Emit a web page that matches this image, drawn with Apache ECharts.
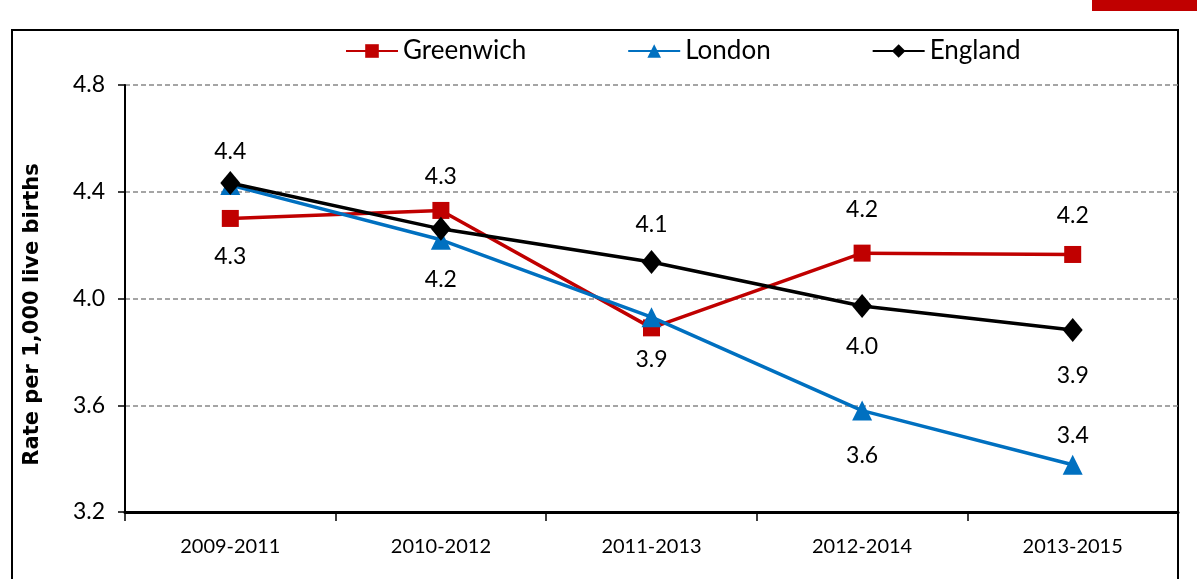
<!DOCTYPE html>
<html>
<head>
<meta charset="utf-8">
<script src="https://cdn.jsdelivr.net/npm/echarts@6/dist/echarts.min.js"></script>
<style>html,body{margin:0;padding:0;background:#fff;}#c{width:1197px;height:579px;}</style>
</head>
<body>
<div id="c"></div>
<script>
var categories = ['2009-2011', '2010-2012', '2011-2013', '2012-2014', '2013-2015'];
var greenwich = [4.30, 4.33, 3.89, 4.17, 4.165];
var london = [4.425, 4.22, 3.93, 3.58, 3.377];
var england = [4.433, 4.261, 4.137, 3.972, 3.882];
var greenwichLabels = ['4.3', '4.3', '3.9', '4.2', '4.2'];
var londonLabels = [null, '4.2', null, '3.6', '3.4'];
var englandLabels = ['4.4', null, '4.1', '4.0', '3.9'];
var yTicks = [3.2, 3.6, 4.0, 4.4, 4.8];

var FONT = 'Lato, "Open Sans", sans-serif';
// label placement per point [position, distance]
var gPos = [['bottom', 18], ['top', 14], ['bottom', 12], ['top', 24], ['top', 19]];
var lPos = [null, ['bottom', 18], null, ['bottom', 23], ['top', 8]];
var ePos = [['top', 8], null, ['top', 14], ['bottom', 17], ['bottom', 22]];

function build(values, labels, pos) {
  return values.map(function (v, i) {
    var item = { value: v };
    if (labels[i] !== null) {
      item.label = {
        show: true, position: pos[i][0], distance: pos[i][1],
        formatter: labels[i], color: '#000', fontSize: 23, fontFamily: FONT
      };
    } else {
      item.label = { show: false };
    }
    return item;
  });
}

var chart = echarts.init(document.getElementById('c'));
chart.setOption({
  animation: false,
  backgroundColor: '#fff',
  graphic: [
    { type: 'rect', shape: { x: 12, y: 30, width: 1166, height: 620 }, style: { fill: 'none', stroke: '#000', lineWidth: 2 }, z: -1 },
    { type: 'rect', shape: { x: 1092, y: 0, width: 105, height: 11 }, style: { fill: '#C00000' } }
  ],
  legend: {
    top: 33, left: 340, itemWidth: 52, itemHeight: 17, itemGap: 101,
    textStyle: { fontSize: 26, fontFamily: FONT, color: '#000', padding: [0, 0, 0, 0] },
    data: ['Greenwich', 'London', 'England']
  },
  grid: { left: 125, right: 19, top: 85, bottom: 67 },
  xAxis: {
    type: 'category', data: categories, boundaryGap: true,
    axisLine: { lineStyle: { color: '#000', width: 3 } },
    axisTick: { show: true, length: 9, lineStyle: { color: '#000', width: 1.5 } },
    axisLabel: { fontSize: 20, fontFamily: FONT, color: '#000', margin: 25 }
  },
  yAxis: {
    type: 'value', min: 3.2, max: 4.8, interval: 0.4,
    name: 'Rate per 1,000 live births', nameLocation: 'middle', nameGap: 82,
    nameTextStyle: { fontSize: 21, fontWeight: 'bold', fontFamily: '"DejaVu Sans", sans-serif', color: '#000', padding: [0, 32, 0, 0] },
    axisLine: { show: true, lineStyle: { color: '#000', width: 2 } },
    axisTick: { show: true, length: 7, lineStyle: { color: '#000', width: 1.5 } },
    axisLabel: { fontSize: 23, fontFamily: FONT, color: '#000', margin: 20,
      formatter: function (v) { return v.toFixed(1); } },
    splitLine: { show: true, lineStyle: { color: '#888', type: [5, 3], width: 1.5 } }
  },
  series: [
    { name: 'Greenwich', type: 'line', data: build(greenwich, greenwichLabels, gPos),
      symbol: 'rect', symbolSize: 17, lineStyle: { color: '#C00000', width: 3.5 },
      itemStyle: { color: '#C00000' }, z: 3 },
    { name: 'London', type: 'line', data: build(london, londonLabels, lPos),
      symbol: 'triangle', symbolSize: 20, lineStyle: { color: '#0070C0', width: 3.5 },
      itemStyle: { color: '#0070C0' }, z: 4 },
    { name: 'England', type: 'line', data: build(england, englandLabels, ePos),
      symbol: 'diamond', symbolSize: [20, 24], lineStyle: { color: '#000', width: 3.5 },
      itemStyle: { color: '#000' }, z: 5 }
  ]
});
</script>
</body>
</html>
